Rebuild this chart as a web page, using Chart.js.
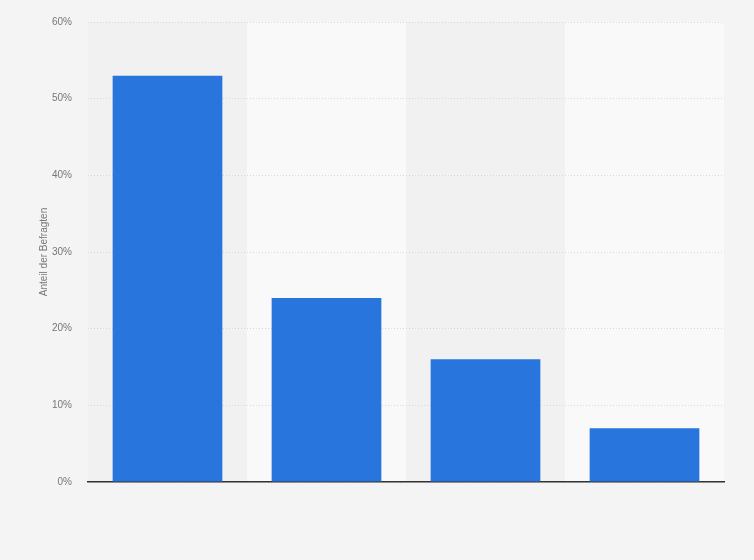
<!DOCTYPE html>
<html>
<head>
<meta charset="utf-8">
<script src="https://cdn.jsdelivr.net/npm/chart.js@4/dist/chart.umd.min.js"></script>
<style>
  html, body { margin: 0; padding: 0; background: #f4f4f4; }
  #wrap { width: 754px; height: 560px; position: relative; }
</style>
</head>
<body>
<div id="wrap"><canvas id="chart"></canvas></div>
<script>
// categories have no visible labels in the picture
const categories = ["Antwort 1", "Antwort 2", "Antwort 3", "Antwort 4"];
const shares = [53, 24, 16, 7];
const yTicks = [0, 10, 20, 30, 40, 50, 60];

// alternating column bands behind the bars
const bandPlugin = {
  id: "bands",
  beforeDraw(chart) {
    const { ctx, chartArea, scales } = chart;
    const x = scales.x;
    ctx.save();
    categories.forEach((c, i) => {
      const left = i === 0 ? chartArea.left : (x.getPixelForValue(i - 1) + x.getPixelForValue(i)) / 2;
      const right = i === categories.length - 1 ? chartArea.right : (x.getPixelForValue(i) + x.getPixelForValue(i + 1)) / 2;
      ctx.fillStyle = i % 2 === 0 ? "#f1f1f1" : "#f9f9f9";
      ctx.fillRect(left, chartArea.top, right - left, chartArea.bottom - chartArea.top);
    });
    ctx.restore();
  }
};

new Chart(document.getElementById("chart"), {
  type: "bar",
  data: {
    labels: categories,
    datasets: [{
      data: shares,
      backgroundColor: "#2876dd",
      borderWidth: 0,
      categoryPercentage: 1,
      barPercentage: 0.69
    }]
  },
  options: {
    responsive: true,
    maintainAspectRatio: false,
    animation: false,
    layout: { padding: { left: 34, right: 30, top: 10, bottom: 78 } },
    plugins: { legend: { display: false }, tooltip: { enabled: false } },
    scales: {
      x: {
        grid: { display: false, drawTicks: false },
        border: { display: true, color: "#333", width: 1.5 },
        ticks: { display: false }
      },
      y: {
        min: 0,
        max: 60,
        afterFit(scale) { scale.width = 54; },
        afterBuildTicks(scale) { scale.ticks = yTicks.map(v => ({ value: v })); },
        grid: { color: "#d8d8d8", drawTicks: false, lineWidth: 1 },
        border: { display: false, dash: [1, 2] },
        ticks: {
          padding: 16,
          color: "#777",
          font: { family: "Arial, sans-serif", size: 10 },
          callback: v => v + "%"
        },
        title: {
          display: true,
          text: "Anteil der Befragten",
          color: "#777",
          font: { family: "Arial, sans-serif", size: 10 },
          padding: { bottom: 0 }
        }
      }
    }
  },
  plugins: [bandPlugin]
});
</script>
</body>
</html>
